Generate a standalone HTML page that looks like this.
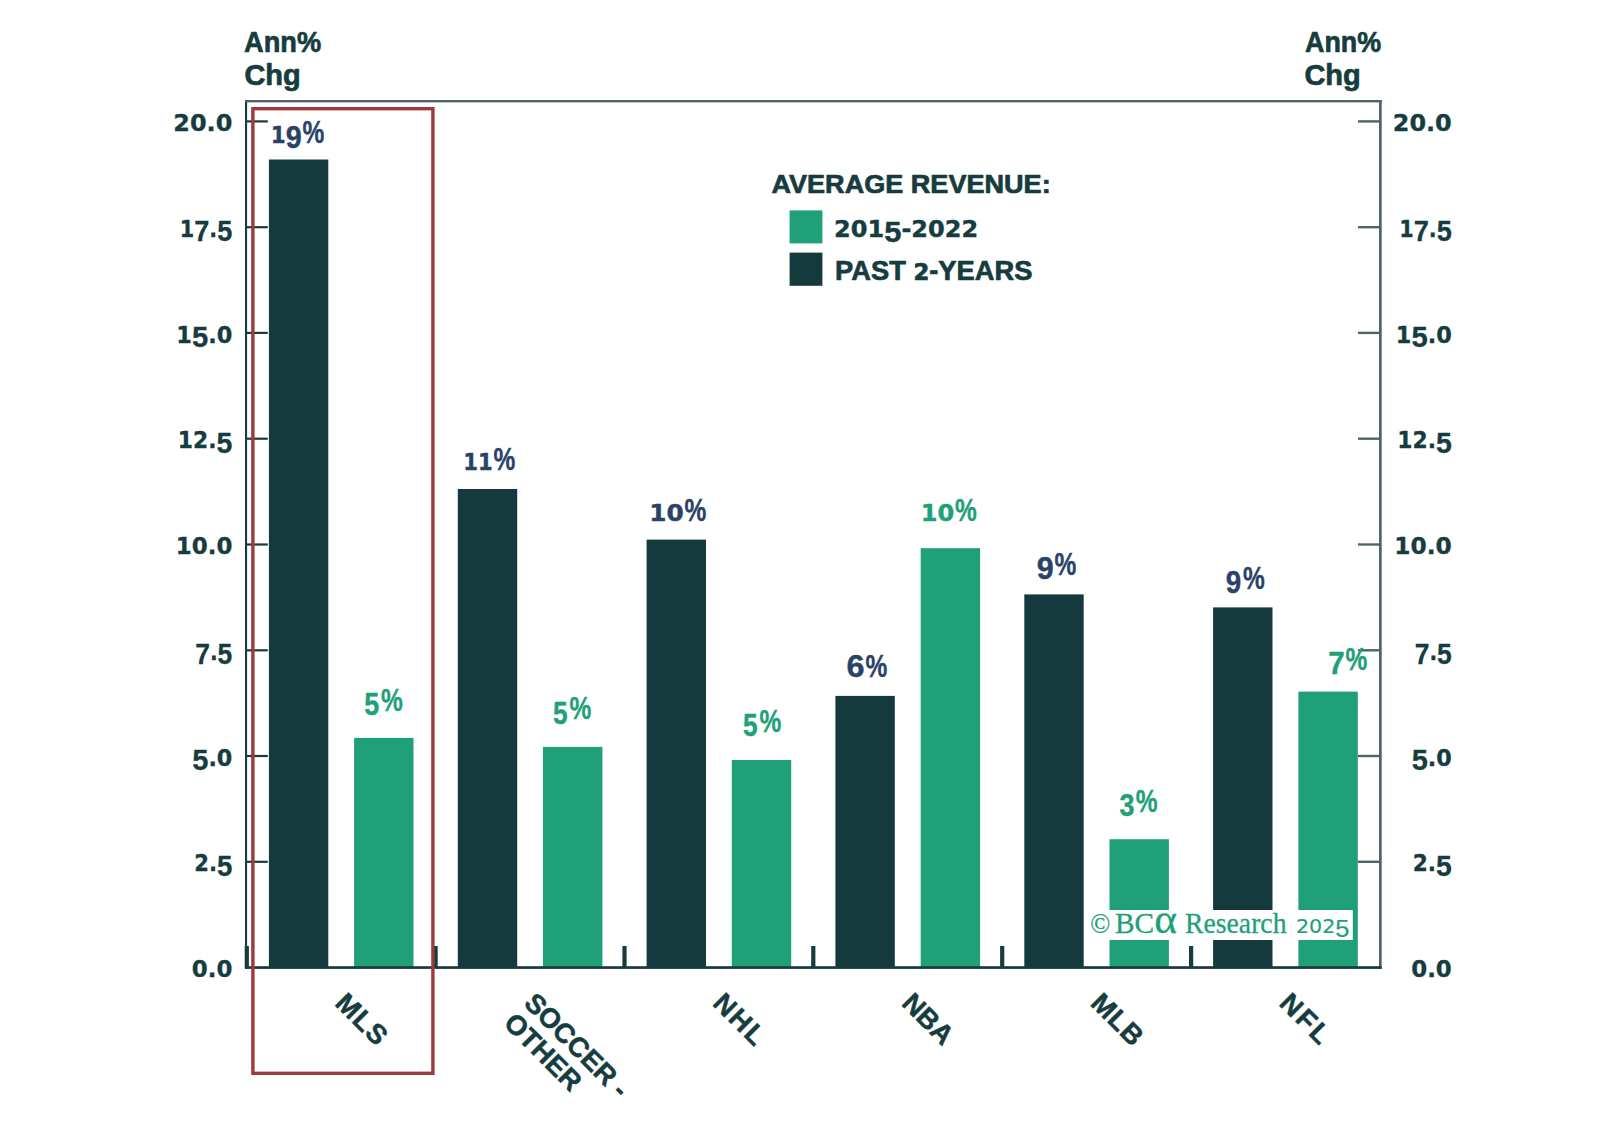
<!DOCTYPE html>
<html lang="en"><head><meta charset="utf-8"><title>Average Revenue Growth by League</title>
<style>html,body{margin:0;padding:0;background:#fff;}body{width:1598px;height:1144px;overflow:hidden;}svg{display:block;}text{stroke-linejoin:round;}</style>
</head><body>
<svg width="1598" height="1144" viewBox="0 0 1598 1144">
<rect width="1598" height="1144" fill="#fff"/>
<rect x="268.9" y="159.5" width="59.4" height="808.5" fill="#143a3e"/>
<rect x="354.1" y="737.9" width="59.4" height="230.1" fill="#1fa078"/>
<rect x="457.8" y="489.0" width="59.4" height="479.0" fill="#143a3e"/>
<rect x="543.0" y="746.9" width="59.4" height="221.1" fill="#1fa078"/>
<rect x="646.6" y="539.6" width="59.4" height="428.4" fill="#143a3e"/>
<rect x="731.8" y="760.0" width="59.4" height="208.0" fill="#1fa078"/>
<rect x="835.4" y="695.9" width="59.4" height="272.1" fill="#143a3e"/>
<rect x="920.7" y="548.2" width="59.4" height="419.8" fill="#1fa078"/>
<rect x="1024.3" y="594.4" width="59.4" height="373.6" fill="#143a3e"/>
<rect x="1109.5" y="839.2" width="59.4" height="128.8" fill="#1fa078"/>
<rect x="1213.1" y="607.4" width="59.4" height="360.6" fill="#143a3e"/>
<rect x="1298.4" y="691.6" width="59.4" height="276.4" fill="#1fa078"/>
<rect x="245" y="100" width="2.1" height="869" fill="#163c40"/>
<rect x="245" y="100" width="1136.8" height="2.4" fill="#4e6468"/>
<rect x="1379" y="100" width="2.7" height="869" fill="#4e6468"/>
<rect x="245" y="966.2" width="1136.7" height="2.7" fill="#163c40"/>
<rect x="247" y="860.7" width="20.8" height="2.2" fill="#163c40"/>
<rect x="1358" y="860.6" width="22" height="2.4" fill="#4e6468"/>
<rect x="247" y="754.9" width="20.8" height="2.2" fill="#163c40"/>
<rect x="1358" y="754.8" width="22" height="2.4" fill="#4e6468"/>
<rect x="247" y="649.2" width="20.8" height="2.2" fill="#163c40"/>
<rect x="1358" y="649.1" width="22" height="2.4" fill="#4e6468"/>
<rect x="247" y="543.4" width="20.8" height="2.2" fill="#163c40"/>
<rect x="1358" y="543.3" width="22" height="2.4" fill="#4e6468"/>
<rect x="247" y="437.6" width="20.8" height="2.2" fill="#163c40"/>
<rect x="1358" y="437.5" width="22" height="2.4" fill="#4e6468"/>
<rect x="247" y="331.8" width="20.8" height="2.2" fill="#163c40"/>
<rect x="1358" y="331.7" width="22" height="2.4" fill="#4e6468"/>
<rect x="247" y="226.1" width="20.8" height="2.2" fill="#163c40"/>
<rect x="1358" y="226.0" width="22" height="2.4" fill="#4e6468"/>
<rect x="247" y="120.3" width="20.8" height="2.2" fill="#163c40"/>
<rect x="1358" y="120.2" width="22" height="2.4" fill="#4e6468"/>
<rect x="244.7" y="946" width="4.2" height="22" fill="#163c40"/>
<rect x="433.5" y="946" width="4.2" height="22" fill="#163c40"/>
<rect x="622.4" y="946" width="4.2" height="22" fill="#163c40"/>
<rect x="811.2" y="946" width="4.2" height="22" fill="#163c40"/>
<rect x="1000.1" y="946" width="4.2" height="22" fill="#163c40"/>
<rect x="1189.0" y="946" width="4.2" height="22" fill="#163c40"/>
<rect x="252.9" y="108.7" width="180" height="964.6" fill="none" stroke="#9c3b3b" stroke-width="3.4"/>
<text x="191.74" y="977.2" font-family="DejaVu Sans, Liberation Sans, sans-serif" font-size="23" fill="#163c40" font-weight="bold" stroke="#163c40" stroke-width="0.3" textLength="40.6" lengthAdjust="spacingAndGlyphs"><tspan font-size="23" font-family="DejaVu Sans, Liberation Sans, sans-serif">0.0</tspan></text>
<text x="1411.20" y="977.2" font-family="DejaVu Sans, Liberation Sans, sans-serif" font-size="23" fill="#163c40" font-weight="bold" stroke="#163c40" stroke-width="0.3" textLength="40.6" lengthAdjust="spacingAndGlyphs"><tspan font-size="23" font-family="DejaVu Sans, Liberation Sans, sans-serif">0.0</tspan></text>
<text x="194.22" y="871.4" font-family="DejaVu Sans, Liberation Sans, sans-serif" font-size="23" fill="#163c40" font-weight="bold" stroke="#163c40" stroke-width="0.3" textLength="38.1" lengthAdjust="spacingAndGlyphs"><tspan font-size="23" font-family="DejaVu Sans, Liberation Sans, sans-serif">2.</tspan><tspan font-size="30" font-family="Liberation Sans, sans-serif" dy="4.3">5</tspan></text>
<text x="1412.76" y="871.4" font-family="DejaVu Sans, Liberation Sans, sans-serif" font-size="23" fill="#163c40" font-weight="bold" stroke="#163c40" stroke-width="0.3" textLength="39.1" lengthAdjust="spacingAndGlyphs"><tspan font-size="23" font-family="DejaVu Sans, Liberation Sans, sans-serif">2.</tspan><tspan font-size="30" font-family="Liberation Sans, sans-serif" dy="4.3">5</tspan></text>
<text x="192.23" y="765.6" font-family="DejaVu Sans, Liberation Sans, sans-serif" font-size="23" fill="#163c40" font-weight="bold" stroke="#163c40" stroke-width="0.3" textLength="40.1" lengthAdjust="spacingAndGlyphs"><tspan font-size="30" font-family="Liberation Sans, sans-serif" dy="4.3">5</tspan><tspan font-size="23" font-family="DejaVu Sans, Liberation Sans, sans-serif" dy="-4.3">.0</tspan></text>
<text x="1411.70" y="765.6" font-family="DejaVu Sans, Liberation Sans, sans-serif" font-size="23" fill="#163c40" font-weight="bold" stroke="#163c40" stroke-width="0.3" textLength="40.1" lengthAdjust="spacingAndGlyphs"><tspan font-size="30" font-family="Liberation Sans, sans-serif" dy="4.3">5</tspan><tspan font-size="23" font-family="DejaVu Sans, Liberation Sans, sans-serif" dy="-4.3">.0</tspan></text>
<text x="195.20" y="659.9" font-family="DejaVu Sans, Liberation Sans, sans-serif" font-size="23" fill="#163c40" font-weight="bold" stroke="#163c40" stroke-width="0.3" textLength="37.1" lengthAdjust="spacingAndGlyphs"><tspan font-size="30" font-family="Liberation Sans, sans-serif" dy="4.3">7</tspan><tspan font-size="23" font-family="DejaVu Sans, Liberation Sans, sans-serif" dy="-4.3">.</tspan><tspan font-size="30" font-family="Liberation Sans, sans-serif" dy="4.3">5</tspan></text>
<text x="1414.68" y="659.9" font-family="DejaVu Sans, Liberation Sans, sans-serif" font-size="23" fill="#163c40" font-weight="bold" stroke="#163c40" stroke-width="0.3" textLength="37.1" lengthAdjust="spacingAndGlyphs"><tspan font-size="30" font-family="Liberation Sans, sans-serif" dy="4.3">7</tspan><tspan font-size="23" font-family="DejaVu Sans, Liberation Sans, sans-serif" dy="-4.3">.</tspan><tspan font-size="30" font-family="Liberation Sans, sans-serif" dy="4.3">5</tspan></text>
<text x="175.77" y="554.1" font-family="DejaVu Sans, Liberation Sans, sans-serif" font-size="23" fill="#163c40" font-weight="bold" stroke="#163c40" stroke-width="0.3" textLength="56.6" lengthAdjust="spacingAndGlyphs"><tspan font-size="23" font-family="DejaVu Sans, Liberation Sans, sans-serif">10.0</tspan></text>
<text x="1394.30" y="554.1" font-family="DejaVu Sans, Liberation Sans, sans-serif" font-size="23" fill="#163c40" font-weight="bold" stroke="#163c40" stroke-width="0.3" textLength="57.5" lengthAdjust="spacingAndGlyphs"><tspan font-size="23" font-family="DejaVu Sans, Liberation Sans, sans-serif">10.0</tspan></text>
<text x="177.80" y="448.3" font-family="DejaVu Sans, Liberation Sans, sans-serif" font-size="23" fill="#163c40" font-weight="bold" stroke="#163c40" stroke-width="0.3" textLength="54.5" lengthAdjust="spacingAndGlyphs"><tspan font-size="23" font-family="DejaVu Sans, Liberation Sans, sans-serif">12.</tspan><tspan font-size="30" font-family="Liberation Sans, sans-serif" dy="4.3">5</tspan></text>
<text x="1397.27" y="448.3" font-family="DejaVu Sans, Liberation Sans, sans-serif" font-size="23" fill="#163c40" font-weight="bold" stroke="#163c40" stroke-width="0.3" textLength="54.6" lengthAdjust="spacingAndGlyphs"><tspan font-size="23" font-family="DejaVu Sans, Liberation Sans, sans-serif">12.</tspan><tspan font-size="30" font-family="Liberation Sans, sans-serif" dy="4.3">5</tspan></text>
<text x="176.30" y="342.5" font-family="DejaVu Sans, Liberation Sans, sans-serif" font-size="23" fill="#163c40" font-weight="bold" stroke="#163c40" stroke-width="0.3" textLength="56.0" lengthAdjust="spacingAndGlyphs"><tspan font-size="23" font-family="DejaVu Sans, Liberation Sans, sans-serif">1</tspan><tspan font-size="30" font-family="Liberation Sans, sans-serif" dy="4.3">5</tspan><tspan font-size="23" font-family="DejaVu Sans, Liberation Sans, sans-serif" dy="-4.3">.0</tspan></text>
<text x="1395.80" y="342.5" font-family="DejaVu Sans, Liberation Sans, sans-serif" font-size="23" fill="#163c40" font-weight="bold" stroke="#163c40" stroke-width="0.3" textLength="56.0" lengthAdjust="spacingAndGlyphs"><tspan font-size="23" font-family="DejaVu Sans, Liberation Sans, sans-serif">1</tspan><tspan font-size="30" font-family="Liberation Sans, sans-serif" dy="4.3">5</tspan><tspan font-size="23" font-family="DejaVu Sans, Liberation Sans, sans-serif" dy="-4.3">.0</tspan></text>
<text x="179.80" y="236.8" font-family="DejaVu Sans, Liberation Sans, sans-serif" font-size="23" fill="#163c40" font-weight="bold" stroke="#163c40" stroke-width="0.3" textLength="52.5" lengthAdjust="spacingAndGlyphs"><tspan font-size="23" font-family="DejaVu Sans, Liberation Sans, sans-serif">1</tspan><tspan font-size="30" font-family="Liberation Sans, sans-serif" dy="4.3">7</tspan><tspan font-size="23" font-family="DejaVu Sans, Liberation Sans, sans-serif" dy="-4.3">.</tspan><tspan font-size="30" font-family="Liberation Sans, sans-serif" dy="4.3">5</tspan></text>
<text x="1399.27" y="236.8" font-family="DejaVu Sans, Liberation Sans, sans-serif" font-size="23" fill="#163c40" font-weight="bold" stroke="#163c40" stroke-width="0.3" textLength="52.6" lengthAdjust="spacingAndGlyphs"><tspan font-size="23" font-family="DejaVu Sans, Liberation Sans, sans-serif">1</tspan><tspan font-size="30" font-family="Liberation Sans, sans-serif" dy="4.3">7</tspan><tspan font-size="23" font-family="DejaVu Sans, Liberation Sans, sans-serif" dy="-4.3">.</tspan><tspan font-size="30" font-family="Liberation Sans, sans-serif" dy="4.3">5</tspan></text>
<text x="173.28" y="131.0" font-family="DejaVu Sans, Liberation Sans, sans-serif" font-size="23" fill="#163c40" font-weight="bold" stroke="#163c40" stroke-width="0.3" textLength="59.1" lengthAdjust="spacingAndGlyphs"><tspan font-size="23" font-family="DejaVu Sans, Liberation Sans, sans-serif">20.0</tspan></text>
<text x="1392.78" y="131.0" font-family="DejaVu Sans, Liberation Sans, sans-serif" font-size="23" fill="#163c40" font-weight="bold" stroke="#163c40" stroke-width="0.3" textLength="59.0" lengthAdjust="spacingAndGlyphs"><tspan font-size="23" font-family="DejaVu Sans, Liberation Sans, sans-serif">20.0</tspan></text>
<text x="244.07" y="51.5" font-family="Liberation Sans, sans-serif" font-size="30" fill="#163c40" font-weight="bold" stroke="#163c40" stroke-width="0.7" textLength="77.0" lengthAdjust="spacingAndGlyphs">Ann%</text>
<text x="244.38" y="85.3" font-family="Liberation Sans, sans-serif" font-size="29" fill="#163c40" font-weight="bold" stroke="#163c40" stroke-width="0.7" textLength="56.3" lengthAdjust="spacingAndGlyphs">Chg</text>
<text x="1305.00" y="51.5" font-family="Liberation Sans, sans-serif" font-size="30" fill="#163c40" font-weight="bold" stroke="#163c40" stroke-width="0.7" textLength="76.1" lengthAdjust="spacingAndGlyphs">Ann%</text>
<text x="1304.41" y="85.3" font-family="Liberation Sans, sans-serif" font-size="29" fill="#163c40" font-weight="bold" stroke="#163c40" stroke-width="0.7" textLength="56.3" lengthAdjust="spacingAndGlyphs">Chg</text>
<text x="771.49" y="192.8" font-family="Liberation Sans, sans-serif" font-size="26" fill="#163c40" font-weight="bold" stroke="#163c40" stroke-width="0.7" textLength="279.2" lengthAdjust="spacingAndGlyphs">AVERAGE REVENUE:</text>
<rect x="789.6" y="210.4" width="32.8" height="33" fill="#1fa078"/>
<rect x="789.6" y="252.6" width="32.8" height="33.2" fill="#143a3e"/>
<text x="834.09" y="237.4" font-family="DejaVu Sans, Liberation Sans, sans-serif" font-size="22.5" fill="#163c40" font-weight="bold" stroke="#163c40" stroke-width="0.4" textLength="144.1" lengthAdjust="spacingAndGlyphs"><tspan font-size="22.5" font-family="DejaVu Sans, Liberation Sans, sans-serif">201</tspan><tspan font-size="29" font-family="Liberation Sans, sans-serif" dy="4.3">5</tspan><tspan dy="-4.3">-</tspan><tspan font-size="22.5" font-family="DejaVu Sans, Liberation Sans, sans-serif">2022</tspan></text>
<text x="835.11" y="279.5" font-family="Liberation Sans, sans-serif" font-size="27" fill="#163c40" font-weight="bold" stroke="#163c40" stroke-width="0.7" textLength="197.3" lengthAdjust="spacingAndGlyphs">PAST <tspan font-size="22.5" font-family="DejaVu Sans, Liberation Sans, sans-serif">2</tspan>-YEARS</text>
<text x="272.7" y="143.3" font-family="DejaVu Sans, Liberation Sans, sans-serif" font-size="23.5" fill="#2b4267" font-weight="bold" stroke="#2b4267" stroke-width="0.4"><tspan x="270.69" textLength="30.97" lengthAdjust="spacingAndGlyphs"><tspan font-size="23.5" font-family="DejaVu Sans, Liberation Sans, sans-serif">1</tspan><tspan font-size="31.4" font-family="Liberation Sans, sans-serif" dy="4.3">9</tspan></tspan><tspan x="302.60" y="143.3" font-family="Liberation Sans, sans-serif" font-size="31" textLength="21.80" lengthAdjust="spacingAndGlyphs">%</tspan></text>
<text x="364.6" y="710.5" font-family="DejaVu Sans, Liberation Sans, sans-serif" font-size="23.5" fill="#1fa078" font-weight="bold" stroke="#1fa078" stroke-width="0.4"><tspan x="364.13" textLength="15.02" lengthAdjust="spacingAndGlyphs"><tspan font-size="31.4" font-family="Liberation Sans, sans-serif" dy="4.3">5</tspan></tspan><tspan x="381.06" y="710.5" font-family="Liberation Sans, sans-serif" font-size="31" textLength="21.80" lengthAdjust="spacingAndGlyphs">%</tspan></text>
<text x="465.4" y="470.2" font-family="DejaVu Sans, Liberation Sans, sans-serif" font-size="23.5" fill="#2b4267" font-weight="bold" stroke="#2b4267" stroke-width="0.4"><tspan x="463.24" textLength="29.41" lengthAdjust="spacingAndGlyphs"><tspan font-size="23.5" font-family="DejaVu Sans, Liberation Sans, sans-serif">11</tspan></tspan><tspan x="493.62" y="470.2" font-family="Liberation Sans, sans-serif" font-size="31" textLength="21.80" lengthAdjust="spacingAndGlyphs">%</tspan></text>
<text x="553.4" y="719.4" font-family="DejaVu Sans, Liberation Sans, sans-serif" font-size="23.5" fill="#1fa078" font-weight="bold" stroke="#1fa078" stroke-width="0.4"><tspan x="553.12" textLength="14.58" lengthAdjust="spacingAndGlyphs"><tspan font-size="31.4" font-family="Liberation Sans, sans-serif" dy="4.3">5</tspan></tspan><tspan x="569.60" y="719.4" font-family="Liberation Sans, sans-serif" font-size="31" textLength="21.80" lengthAdjust="spacingAndGlyphs">%</tspan></text>
<text x="651.6" y="520.5" font-family="DejaVu Sans, Liberation Sans, sans-serif" font-size="23.5" fill="#2b4267" font-weight="bold" stroke="#2b4267" stroke-width="0.4"><tspan x="649.21" textLength="34.44" lengthAdjust="spacingAndGlyphs"><tspan font-size="23.5" font-family="DejaVu Sans, Liberation Sans, sans-serif">10</tspan></tspan><tspan x="684.60" y="520.5" font-family="Liberation Sans, sans-serif" font-size="31" textLength="21.80" lengthAdjust="spacingAndGlyphs">%</tspan></text>
<text x="743.4" y="732.0" font-family="DejaVu Sans, Liberation Sans, sans-serif" font-size="23.5" fill="#1fa078" font-weight="bold" stroke="#1fa078" stroke-width="0.4"><tspan x="743.12" textLength="14.58" lengthAdjust="spacingAndGlyphs"><tspan font-size="31.4" font-family="Liberation Sans, sans-serif" dy="4.3">5</tspan></tspan><tspan x="759.60" y="732.0" font-family="Liberation Sans, sans-serif" font-size="31" textLength="21.80" lengthAdjust="spacingAndGlyphs">%</tspan></text>
<text x="847.7" y="676.7" font-family="DejaVu Sans, Liberation Sans, sans-serif" font-size="23.5" fill="#2b4267" font-weight="bold" stroke="#2b4267" stroke-width="0.4"><tspan x="846.63" textLength="17.99" lengthAdjust="spacingAndGlyphs"><tspan font-size="31.4" font-family="Liberation Sans, sans-serif">6</tspan></tspan><tspan x="865.60" y="676.7" font-family="Liberation Sans, sans-serif" font-size="31" textLength="21.80" lengthAdjust="spacingAndGlyphs">%</tspan></text>
<text x="923.3" y="520.9" font-family="DejaVu Sans, Liberation Sans, sans-serif" font-size="23.5" fill="#1fa078" font-weight="bold" stroke="#1fa078" stroke-width="0.4"><tspan x="920.66" textLength="33.49" lengthAdjust="spacingAndGlyphs"><tspan font-size="23.5" font-family="DejaVu Sans, Liberation Sans, sans-serif">10</tspan></tspan><tspan x="955.08" y="520.9" font-family="Liberation Sans, sans-serif" font-size="31" textLength="21.80" lengthAdjust="spacingAndGlyphs">%</tspan></text>
<text x="1037.5" y="575.0" font-family="DejaVu Sans, Liberation Sans, sans-serif" font-size="23.5" fill="#2b4267" font-weight="bold" stroke="#2b4267" stroke-width="0.4"><tspan x="1036.64" textLength="16.98" lengthAdjust="spacingAndGlyphs"><tspan font-size="31.4" font-family="Liberation Sans, sans-serif" dy="4.3">9</tspan></tspan><tspan x="1054.60" y="575.0" font-family="Liberation Sans, sans-serif" font-size="31" textLength="21.80" lengthAdjust="spacingAndGlyphs">%</tspan></text>
<text x="1119.9" y="811.8" font-family="DejaVu Sans, Liberation Sans, sans-serif" font-size="23.5" fill="#1fa078" font-weight="bold" stroke="#1fa078" stroke-width="0.4"><tspan x="1119.62" textLength="14.95" lengthAdjust="spacingAndGlyphs"><tspan font-size="31.4" font-family="Liberation Sans, sans-serif" dy="4.3">3</tspan></tspan><tspan x="1135.64" y="811.8" font-family="Liberation Sans, sans-serif" font-size="31" textLength="21.80" lengthAdjust="spacingAndGlyphs">%</tspan></text>
<text x="1226.1" y="588.5" font-family="DejaVu Sans, Liberation Sans, sans-serif" font-size="23.5" fill="#2b4267" font-weight="bold" stroke="#2b4267" stroke-width="0.4"><tspan x="1225.67" textLength="15.45" lengthAdjust="spacingAndGlyphs"><tspan font-size="31.4" font-family="Liberation Sans, sans-serif" dy="4.3">9</tspan></tspan><tspan x="1243.06" y="588.5" font-family="Liberation Sans, sans-serif" font-size="31" textLength="21.80" lengthAdjust="spacingAndGlyphs">%</tspan></text>
<text x="1329.2" y="669.9" font-family="DejaVu Sans, Liberation Sans, sans-serif" font-size="23.5" fill="#1fa078" font-weight="bold" stroke="#1fa078" stroke-width="0.4"><tspan x="1328.18" textLength="16.45" lengthAdjust="spacingAndGlyphs"><tspan font-size="31.4" font-family="Liberation Sans, sans-serif" dy="4.3">7</tspan></tspan><tspan x="1345.62" y="669.9" font-family="Liberation Sans, sans-serif" font-size="31" textLength="21.80" lengthAdjust="spacingAndGlyphs">%</tspan></text>
<g transform="translate(333.8,1004.4) rotate(45)">
<text x="0" y="0.0" font-family="Liberation Sans, sans-serif" font-size="27.5" fill="#163c40" font-weight="bold" stroke="#163c40" stroke-width="0.5" textLength="60.3" lengthAdjust="spacing">MLS</text>
</g>
<g transform="translate(522.7,1004.4) rotate(45)">
<text x="0" y="0.0" font-family="Liberation Sans, sans-serif" font-size="27.5" fill="#163c40" font-weight="bold" stroke="#163c40" stroke-width="0.5">SOCCER -</text>
<text x="0" y="28.6" font-family="Liberation Sans, sans-serif" font-size="27.5" fill="#163c40" font-weight="bold" stroke="#163c40" stroke-width="0.5">OTHER</text>
</g>
<g transform="translate(711.5,1004.4) rotate(45)">
<text x="0" y="0.0" font-family="Liberation Sans, sans-serif" font-size="27.5" fill="#163c40" font-weight="bold" stroke="#163c40" stroke-width="0.5" textLength="60.5" lengthAdjust="spacing">NHL</text>
</g>
<g transform="translate(900.4,1004.4) rotate(45)">
<text x="0" y="0.0" font-family="Liberation Sans, sans-serif" font-size="27.5" fill="#163c40" font-weight="bold" stroke="#163c40" stroke-width="0.5">NBA</text>
</g>
<g transform="translate(1089.2,1004.4) rotate(45)">
<text x="0" y="0.0" font-family="Liberation Sans, sans-serif" font-size="27.5" fill="#163c40" font-weight="bold" stroke="#163c40" stroke-width="0.5" textLength="61.0" lengthAdjust="spacing">MLB</text>
</g>
<g transform="translate(1278.1,1004.4) rotate(45)">
<text x="0" y="0.0" font-family="Liberation Sans, sans-serif" font-size="27.5" fill="#163c40" font-weight="bold" stroke="#163c40" stroke-width="0.5" textLength="58.5" lengthAdjust="spacing">NFL</text>
</g>
<rect x="1088.8" y="910" width="264" height="30" fill="#fff"/>
<text x="1090.2" y="932.8" font-family="Liberation Serif, serif" font-size="27" fill="#1fa078" stroke="#1fa078" stroke-width="0.3" textLength="20.0" lengthAdjust="spacingAndGlyphs">©</text>
<text x="1115" y="932.8" font-family="Liberation Serif, serif" font-size="29" fill="#1fa078" stroke="#1fa078" stroke-width="0.3" textLength="62.0" lengthAdjust="spacingAndGlyphs">BC<tspan font-size="43">α</tspan></text>
<text x="1185" y="932.8" font-family="Liberation Serif, serif" font-size="29" fill="#1fa078" stroke="#1fa078" stroke-width="0.3" textLength="101.5" lengthAdjust="spacingAndGlyphs">Research</text>
<text x="1296" y="932.8" font-family="DejaVu Sans, Liberation Sans, sans-serif" font-size="19.5" fill="#1fa078" stroke="#1fa078" stroke-width="0.2" textLength="53.5" lengthAdjust="spacingAndGlyphs"><tspan font-size="19.5" font-family="DejaVu Sans, Liberation Sans, sans-serif">202</tspan><tspan font-size="24" font-family="Liberation Sans, sans-serif" dy="4.0">5</tspan></text>
</svg>
</body></html>
